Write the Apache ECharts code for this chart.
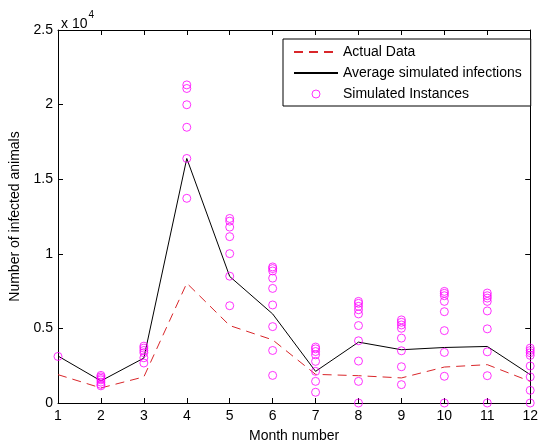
<!DOCTYPE html>
<html><head><meta charset="utf-8">
<script src="https://cdn.jsdelivr.net/npm/echarts@6/dist/echarts.min.js"></script>
<style>html,body{margin:0;padding:0;background:#fff}#c{width:541px;height:448px}</style>
</head><body><div id="c"></div>
<script>
var months = [1,2,3,4,5,6,7,8,9,10,11,12];
var actualData = [1900, 1010, 1750, 8030, 5190, 4230, 1920, 1830, 1680, 2410, 2570, 1450];
var averageSim = [3150, 1480, 3010, 16390, 8480, 5970, 2120, 4080, 3570, 3720, 3790, 1900];
var simM1 = [3120];
var simM2 = [1850, 1750, 1650, 1550, 1400, 1250, 1150];
var simM3 = [3810, 3680, 3520, 3370, 3030, 2680];
var simM4 = [21320, 21080, 19990, 18480, 16390, 13720];
var simM5 = [12370, 12190, 11790, 11150, 10010, 8500, 6520];
var simM6 = [9120, 9010, 8850, 8370, 7680, 6570, 5120, 3520, 1850];
var simM7 = [3750, 3630, 3450, 3230, 2790, 2120, 1450, 720];
var simM8 = [6810, 6680, 6480, 6250, 5970, 5190, 4170, 2810, 1450, 0];
var simM9 = [5570, 5410, 5230, 5010, 4350, 3500, 2430, 1230];
var simM10 = [7480, 7350, 7190, 6810, 6120, 4850, 3390, 1790, 0];
var simM11 = [7370, 7190, 7030, 6810, 6170, 4970, 3430, 1830, 0];
var simM12 = [3680, 3520, 3370, 3190, 2480, 1750, 850, 0];
var yTicks = [0, 5000, 10000, 15000, 20000, 25000];

var simAll = [simM1, simM2, simM3, simM4, simM5, simM6, simM7, simM8, simM9, simM10, simM11, simM12];
var scatterPts = [];
simAll.forEach(function (arr, i) { arr.forEach(function (v) { scatterPts.push([months[i], v]); }); });
var actualPts = months.map(function (m, i) { return [m, actualData[i]]; });
var avgPts = months.map(function (m, i) { return [m, averageSim[i]]; });

var FONT = 'Liberation Sans, Arial, sans-serif';
var chart = echarts.init(document.getElementById('c'), null, {renderer: 'canvas'});
chart.setOption({
  animation: false,
  backgroundColor: '#fff',
  textStyle: {fontFamily: FONT},
  title: {
    text: '{a|x 10}{s|4}',
    left: 56, top: 5,
    textStyle: {fontWeight: 'normal', rich: {
      a: {fontFamily: FONT, fontSize: 14, fontWeight: 'normal', color: '#000', padding: [7, 0, 0, 0]},
      s: {fontFamily: FONT, fontSize: 10, fontWeight: 'normal', color: '#000', verticalAlign: 'top', padding: [0, 0, 7, 1]}
    }}
  },
  grid: {left: 57, right: 8, top: 30, bottom: 43, containLabel: false},
  legend: {
    orient: 'vertical', left: 283, top: 39,
    padding: [6, 9, 5, 10],
    itemGap: 7, itemWidth: 44, itemHeight: 8,
    borderColor: '#000', borderWidth: 1, backgroundColor: '#fff',
    textStyle: {fontFamily: FONT, fontSize: 14, color: '#000'},
    data: [
      {name: 'Actual Data', itemStyle: {color: 'transparent', borderColor: 'transparent', borderWidth: 0}},
      {name: 'Average simulated infections', itemStyle: {color: 'transparent', borderColor: 'transparent', borderWidth: 0}},
      {name: 'Simulated Instances', icon: 'circle', itemStyle: {color: 'transparent', borderColor: '#ff00ff', borderWidth: 1}}
    ]
  },
  xAxis: [{
    type: 'value', min: 1, max: 12, interval: 1,
    name: 'Month number', nameLocation: 'middle', nameGap: 26,
    nameTextStyle: {fontFamily: FONT, fontSize: 14, color: '#000'},
    axisLine: {onZero: false, lineStyle: {color: '#000', width: 1}},
    axisTick: {inside: true, length: 5, lineStyle: {color: '#000'}},
    axisLabel: {fontFamily: FONT, fontSize: 14, color: '#000', margin: 6},
    splitLine: {show: false}
  }, {
    type: 'value', min: 1, max: 12, interval: 1, position: 'top',
    axisLine: {onZero: false, lineStyle: {color: '#000', width: 1}},
    axisTick: {inside: true, length: 5, lineStyle: {color: '#000'}},
    axisLabel: {show: false}, splitLine: {show: false}
  }],
  yAxis: [{
    type: 'value', min: 0, max: 25000, interval: 5000,
    name: 'Number of infected animals', nameLocation: 'middle', nameGap: 36,
    nameTextStyle: {fontFamily: FONT, fontSize: 14, color: '#000'},
    axisLine: {show: true, onZero: false, lineStyle: {color: '#000', width: 1}},
    axisTick: {show: true, inside: true, length: 5, lineStyle: {color: '#000'}},
    axisLabel: {fontFamily: FONT, fontSize: 14, color: '#000', margin: 5,
      formatter: function (v) { return String(v / 10000); }},
    splitLine: {show: false}
  }, {
    type: 'value', min: 0, max: 25000, interval: 5000, position: 'right',
    axisLine: {show: true, onZero: false, lineStyle: {color: '#000', width: 1}},
    axisTick: {show: true, inside: true, length: 5, lineStyle: {color: '#000'}},
    axisLabel: {show: false}, splitLine: {show: false}
  }],
  series: [{
    name: 'Actual Data', type: 'line', data: actualPts,
    symbol: 'none', color: '#d9262a',
    lineStyle: {color: '#d9262a', width: 1, type: [9, 6]}, z: 3
  }, {
    name: 'Average simulated infections', type: 'line', data: avgPts,
    symbol: 'none', color: '#000',
    lineStyle: {color: '#000', width: 1}, z: 3
  }, {
    name: 'Simulated Instances', type: 'scatter', data: scatterPts,
    symbol: 'circle', symbolSize: 8,
    itemStyle: {color: 'transparent', borderColor: '#ff00ff', borderWidth: 1}, z: 4
  }]
});
</script></body></html>
